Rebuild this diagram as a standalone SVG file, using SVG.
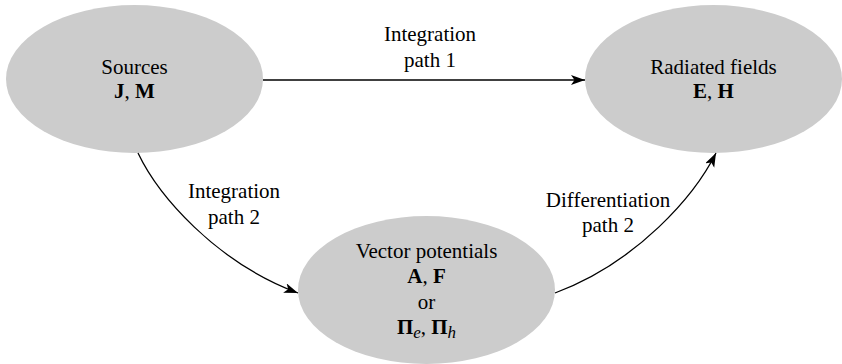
<svg xmlns="http://www.w3.org/2000/svg" width="842" height="364" viewBox="0 0 842 364">
<style>
.node{fill:#cccccc;stroke:none}
text{font-family:"Liberation Serif","Times New Roman",serif;font-size:21px;fill:#000;text-anchor:middle}
.b{font-weight:bold}
.i{font-style:italic;font-weight:normal}
.edge{fill:none;stroke:#000;stroke-width:1.3}
</style>
<defs>
<marker id="arr" markerUnits="userSpaceOnUse" markerWidth="16" markerHeight="12" refX="14" refY="5" orient="auto">
<path d="M0,0 L14,5 L0,10 L3.5,5 z" fill="#000"/>
</marker>
</defs>
<g id="sources">
<ellipse class="node" cx="134.5" cy="79" rx="128.5" ry="74"/>
<text x="134.5" y="74">Sources</text>
<text x="134.5" y="98"><tspan class="b">J</tspan>, <tspan class="b">M</tspan></text>
</g>
<g id="fields">
<ellipse class="node" cx="713.5" cy="79" rx="128.5" ry="74"/>
<text x="713.5" y="74">Radiated fields</text>
<text x="713.5" y="98"><tspan class="b">E</tspan>, <tspan class="b">H</tspan></text>
</g>
<g id="potentials">
<ellipse class="node" cx="426.5" cy="290" rx="128.5" ry="74"/>
<text x="426.5" y="258">Vector potentials</text>
<text x="426.5" y="283"><tspan class="b">A</tspan>, <tspan class="b">F</tspan></text>
<text x="426.5" y="309">or</text>
<text x="426.5" y="334"><tspan class="b">Π</tspan><tspan class="i" font-size="17" dy="4">e</tspan><tspan dy="-4">, </tspan><tspan class="b">Π</tspan><tspan class="i" font-size="17" dy="4">h</tspan></text>
</g>
<g id="connectors">
<path class="edge" d="M263,80 L585,80" marker-end="url(#arr)"/>
<path class="edge" d="M138,153 C158,195 215,262 298,293" marker-end="url(#arr)"/>
<path class="edge" d="M555,293 C638,262 695,195 716,153" marker-end="url(#arr)"/>
<text x="430" y="41">Integration</text>
<text x="430" y="67">path 1</text>
<text x="234" y="198">Integration</text>
<text x="234" y="224">path 2</text>
<text x="608" y="207">Differentiation</text>
<text x="608" y="232">path 2</text>
</g>
</svg>
